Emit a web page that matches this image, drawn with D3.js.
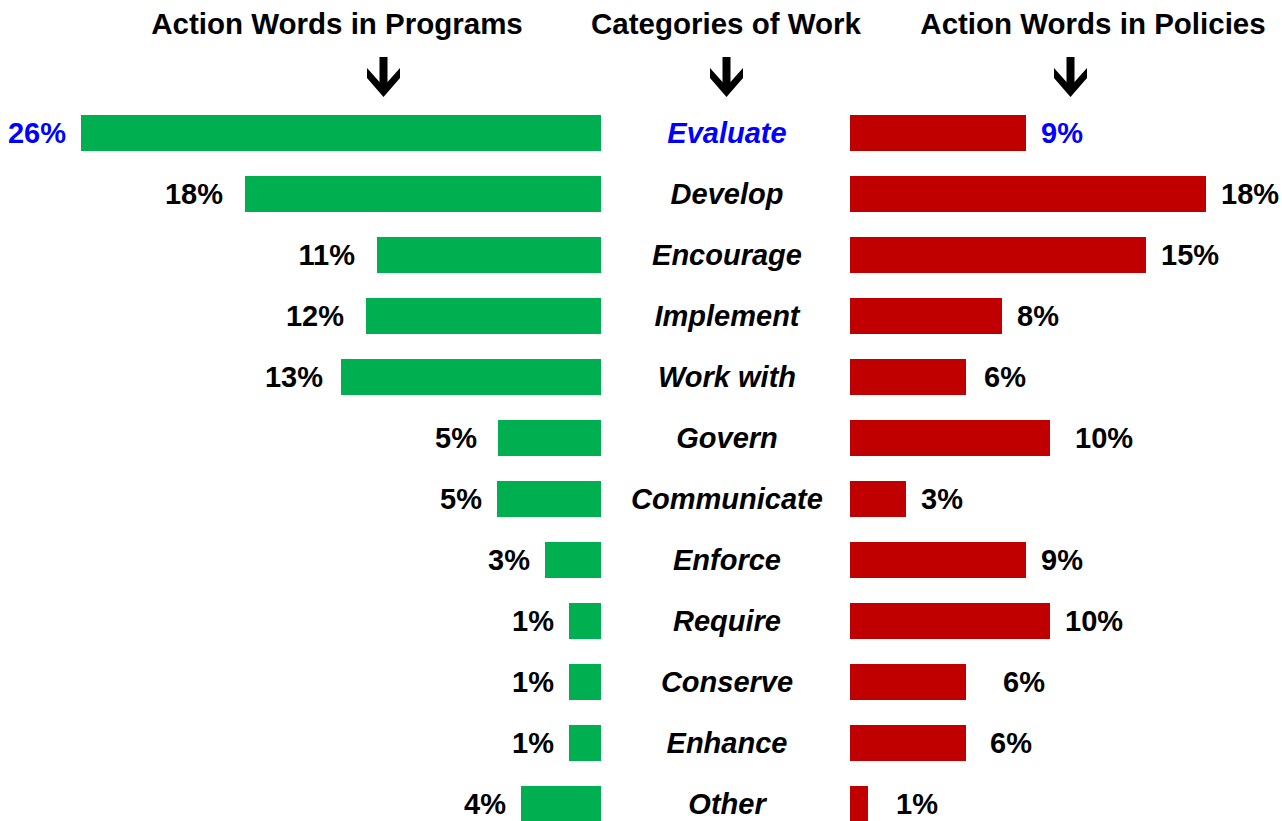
<!DOCTYPE html>
<html>
<head>
<meta charset="utf-8">
<script src="https://cdn.jsdelivr.net/npm/d3@7"></script>
<style>
  body { margin: 0; background: #fff; }
  text { font-family: "Liberation Sans", Arial, sans-serif; font-weight: bold; }
</style>
</head>
<body>
<div id="main"></div>
<script>
// categories of work (rows, top to bottom)
const categories = ["Evaluate", "Develop", "Encourage", "Implement", "Work with", "Govern",
  "Communicate", "Enforce", "Require", "Conserve", "Enhance", "Other"];

// bar lengths in percent
const programValues = [26.0, 17.8, 11.2, 11.75, 13.0, 5.15, 5.2, 2.8, 1.6, 1.6, 1.6, 4.0];
const policyValues = [8.8, 17.8, 14.8, 7.6, 5.8, 10.0, 2.8, 8.8, 10.0, 5.8, 5.8, 0.9];

// printed labels
const programLabels = ["26%", "18%", "11%", "12%", "13%", "5%", "5%", "3%", "1%", "1%", "1%", "4%"];
const policyLabels = ["9%", "18%", "15%", "8%", "6%", "10%", "3%", "9%", "10%", "6%", "6%", "1%"];

const highlight = "Evaluate";

const titles = ["Action Words in Programs", "Categories of Work", "Action Words in Policies"];

// layout
const W = 1282, H = 821;
const leftEdge = 601, rightEdge = 850, centerX = 727;
const nudgeLeft = [0, 7, 7, 7, 3, 6, 0, 0, 0, 0, 0, 0];
const nudgeRight = [0, 0, 0, 0, 3, 10, 0, 0, 0, 22, 9, 13];

class Butterfly {
  constructor(div) {
    this.svg = d3.select(div).append("svg")
      .attr("width", W)
      .attr("height", H);
    this.rows = categories.map((c, i) => ({
      cat: c, prog: programValues[i], pol: policyValues[i],
      progLabel: programLabels[i], polLabel: policyLabels[i], i: i
    }));
  }

  createScales() {
    this.yScale = d3.scaleBand()
      .domain(categories)
      .range([102.5, 102.5 + 61 * 12])
      .paddingInner(0.41)
      .paddingOuter(0.205);
    this.xLeft = d3.scaleLinear().domain([0, 26]).range([leftEdge, leftEdge - 520]);
    this.xRight = d3.scaleLinear().domain([0, 26]).range([rightEdge, rightEdge + 520]);
  }

  renderHeader() {
    const tx = [337, 726, 1093];
    const ax = [383.5, 726.5, 1070.5];
    this.svg.selectAll("text.title")
      .data(titles)
      .join("text")
      .attr("class", "title")
      .attr("x", (d, i) => tx[i])
      .attr("y", 34)
      .attr("text-anchor", "middle")
      .attr("font-size", 29.5)
      .attr("fill", "#000")
      .text(d => d);

    const arrow = "M-4,0 L4,0 L4,25 L16.5,11 L16.5,21 L0,40 L-16.5,21 L-16.5,11 L-4,25 Z";
    this.svg.selectAll("path.arrow")
      .data(ax)
      .join("path")
      .attr("class", "arrow")
      .attr("transform", d => `translate(${d},57)`)
      .attr("d", arrow)
      .attr("fill", "#000");
  }

  renderBars() {
    const y = this.yScale, bw = y.bandwidth();
    const colorOf = d => d.cat === highlight ? "#0000FF" : "#000";

    this.svg.selectAll("rect.prog")
      .data(this.rows)
      .join("rect")
      .attr("class", "prog")
      .attr("x", d => this.xLeft(d.prog))
      .attr("y", d => y(d.cat))
      .attr("width", d => this.xLeft(0) - this.xLeft(d.prog))
      .attr("height", bw)
      .attr("fill", "#00B050");

    this.svg.selectAll("rect.pol")
      .data(this.rows)
      .join("rect")
      .attr("class", "pol")
      .attr("x", this.xRight(0))
      .attr("y", d => y(d.cat))
      .attr("width", d => this.xRight(d.pol) - this.xRight(0))
      .attr("height", bw)
      .attr("fill", "#C00000");

    this.svg.selectAll("text.progLabel")
      .data(this.rows)
      .join("text")
      .attr("class", "progLabel")
      .attr("x", d => this.xLeft(d.prog) - 15 - nudgeLeft[d.i])
      .attr("y", d => y(d.cat) + bw / 2)
      .attr("dy", "0.34em")
      .attr("text-anchor", "end")
      .attr("font-size", 29)
      .attr("fill", colorOf)
      .text(d => d.progLabel);

    this.svg.selectAll("text.polLabel")
      .data(this.rows)
      .join("text")
      .attr("class", "polLabel")
      .attr("x", d => this.xRight(d.pol) + 15 + nudgeRight[d.i])
      .attr("y", d => y(d.cat) + bw / 2)
      .attr("dy", "0.34em")
      .attr("font-size", 29)
      .attr("fill", colorOf)
      .text(d => d.polLabel);

    this.svg.selectAll("text.cat")
      .data(this.rows)
      .join("text")
      .attr("class", "cat")
      .attr("x", centerX)
      .attr("y", d => y(d.cat) + bw / 2)
      .attr("dy", "0.34em")
      .attr("text-anchor", "middle")
      .attr("font-size", 29)
      .attr("font-style", "italic")
      .attr("fill", colorOf)
      .text(d => d.cat);
  }
}

function main() {
  const b = new Butterfly("#main");
  b.createScales();
  b.renderHeader();
  b.renderBars();
}

main();
</script>
</body>
</html>
